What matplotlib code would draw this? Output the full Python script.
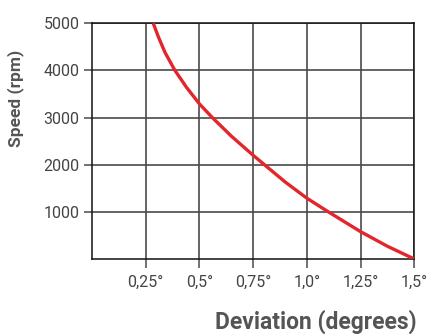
import matplotlib
matplotlib.use("Agg")
import matplotlib.pyplot as plt

# Data
deviation = [0.285, 0.31, 0.34, 0.386, 0.44, 0.50, 0.56, 0.65, 0.75, 0.80, 0.90, 1.00, 1.10, 1.25, 1.375, 1.50]
speed = [5000, 4700, 4380, 4000, 3640, 3290, 3000, 2600, 2200, 2010, 1630, 1290, 1000, 580, 270, 0]

x_ticks = [0.25, 0.5, 0.75, 1.0, 1.25, 1.5]
x_tick_labels = ["0,25°", "0,5°", "0,75°", "1,0°", "1,25°", "1,5°"]
y_ticks = [1000, 2000, 3000, 4000, 5000]
y_tick_labels = ["1000", "2000", "3000", "4000", "5000"]

fig = plt.figure(figsize=(4.32, 3.34), dpi=100)
ax = fig.add_axes([92/432, 75/334, (414.3-92)/432, (259-23.3)/334])

grid_c = "#4a4a4a"
for xv in x_ticks:
    ax.axvline(xv, color=grid_c, lw=1.2, zorder=1)
for yv in y_ticks:
    ax.axhline(yv, color=grid_c, lw=1.2, zorder=1)

ax.plot(deviation, speed, color="#e3262b", lw=2.4, solid_capstyle="butt",
        solid_joinstyle="round", zorder=3)

ax.set_xlim(0, 1.5)
ax.set_ylim(0, 5000)
ax.set_xticks(x_ticks)
ax.set_xticklabels(x_tick_labels)
ax.set_yticks(y_ticks)
ax.set_yticklabels(y_tick_labels)

for s in ax.spines.values():
    s.set_color("#111111")
    s.set_linewidth(1.1)

ax.tick_params(axis="x", direction="out", length=6.5, width=1.1, color=grid_c, pad=5,
               labelcolor="#444444")
ax.tick_params(axis="y", direction="out", length=6, width=1.1, color=grid_c, pad=3,
               labelcolor="#444444")
for lab in ax.get_xticklabels() + ax.get_yticklabels():
    lab.set_fontfamily(["Roboto", "DejaVu Sans"])
    lab.set_fontweight("normal")
    lab.set_fontsize(11.5)

fig.text(16/432, 1 - 98/334, "Speed (rpm)", rotation=90, ha="center", va="center",
         fontsize=12.5, fontweight="bold", color="#555555", family=["Roboto", "DejaVu Sans"])
fig.text(417/432, 1 - 329/334, "Deviation (degrees)", ha="right", va="baseline",
         fontsize=16.5, fontweight="bold", color="#555555", family=["Roboto", "DejaVu Sans"])

fig.savefig("out.png", dpi=100)
